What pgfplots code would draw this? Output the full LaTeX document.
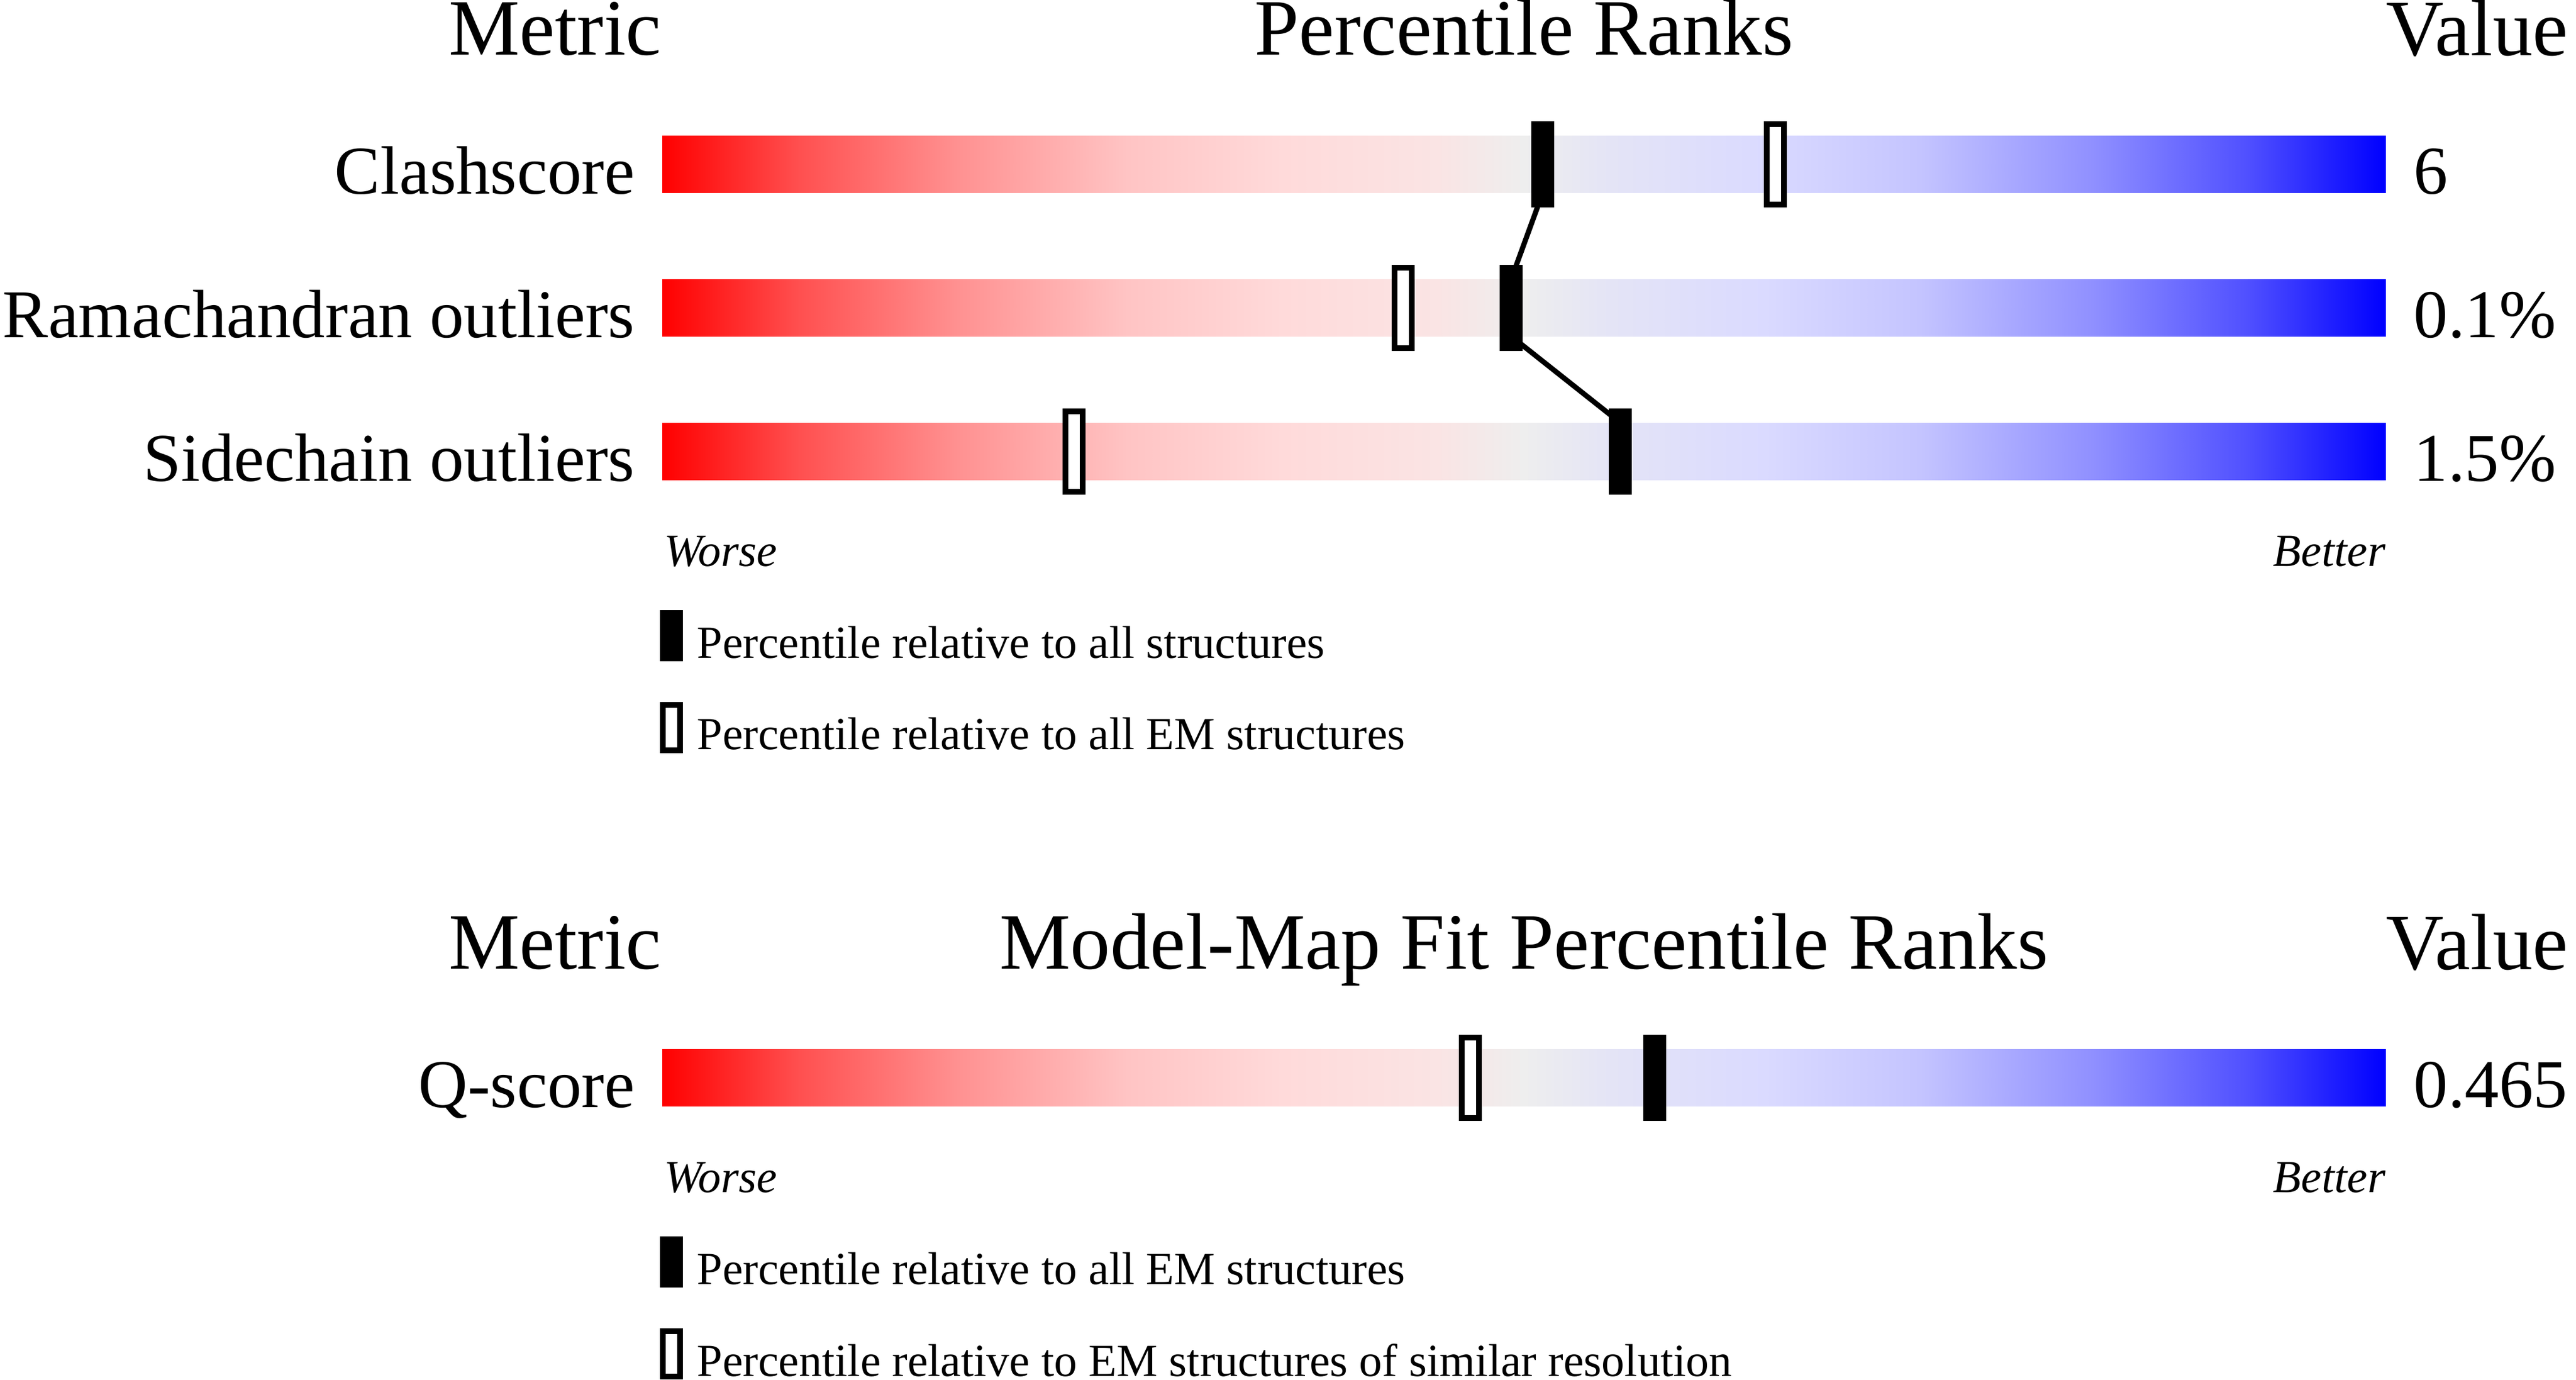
\documentclass[border=0pt]{standalone}
\usepackage{fontspec}
\setmainfont{Liberation Serif}
\usepackage{pgfplots}
\pgfplotsset{compat=1.18}
\usepgfplotslibrary{patchplots}

\pgfdeclareplotmark{pctbar}{\pgfpathrectangle{\pgfqpoint{-1.5pt}{-7pt}}{\pgfqpoint{3pt}{14pt}}\pgfusepathqfillstroke}
\pgfdeclareplotmark{legbar}{\pgfpathrectangle{\pgfqpoint{-1.5pt}{-3.95pt}}{\pgfqpoint{3pt}{7.9pt}}\pgfusepathqfillstroke}

\pgfplotsset{colormap={wwpdb}{rgb255(0pt)=(255,0,0) rgb255(8pt)=(255,80,80) rgb255(17pt)=(255,144,144) rgb255(27pt)=(255,196,196) rgb255(36pt)=(255,218,218) rgb255(45pt)=(250,228,228) rgb255(50pt)=(238,238,238) rgb255(55pt)=(228,228,246) rgb255(64pt)=(218,218,255) rgb255(73pt)=(196,196,255) rgb255(83pt)=(144,144,255) rgb255(92pt)=(80,80,255) rgb255(100pt)=(0,0,255)}}
\pgfplotsset{gbar/.style={patch, patch type=rectangle, mesh input=lattice, mesh/cols=13, shader=interp, point meta=x}}
\tikzset{tx/.style={inner sep=0pt, outer sep=0pt}}

\newcommand\ttl{\fontsize{13.9}{16}\selectfont}
\newcommand\lbl{\fontsize{11.9}{14}\selectfont}
\newcommand\sml{\fontsize{8}{9}\selectfont}

\begin{document}
\begin{tikzpicture}
\useasboundingbox (0,0) rectangle (448.5pt,240.2pt);
\begin{axis}[
  at={(0,0)}, anchor=south west,
  scale only axis, width=448.5pt, height=240.2pt,
  xmin=-38.4333, xmax=111.0667, ymin=0, ymax=2402, y dir=reverse,
  axis lines=none, ticks=none, clip=false,
  colormap name=wwpdb, point meta min=0, point meta max=100,
]
% ---------- gradient bars ----------
\addplot[gbar] coordinates {
(0,235.8) (8,235.8) (17,235.8) (27,235.8) (36,235.8) (45,235.8) (50,235.8) (55,235.8) (64,235.8) (73,235.8) (83,235.8) (92,235.8) (100,235.8)

(0,335.4) (8,335.4) (17,335.4) (27,335.4) (36,335.4) (45,335.4) (50,335.4) (55,335.4) (64,335.4) (73,335.4) (83,335.4) (92,335.4) (100,335.4)
};
\addplot[gbar] coordinates {
(0,485.8) (8,485.8) (17,485.8) (27,485.8) (36,485.8) (45,485.8) (50,485.8) (55,485.8) (64,485.8) (73,485.8) (83,485.8) (92,485.8) (100,485.8)

(0,585.4) (8,585.4) (17,585.4) (27,585.4) (36,585.4) (45,585.4) (50,585.4) (55,585.4) (64,585.4) (73,585.4) (83,585.4) (92,585.4) (100,585.4)
};
\addplot[gbar] coordinates {
(0,735.8) (8,735.8) (17,735.8) (27,735.8) (36,735.8) (45,735.8) (50,735.8) (55,735.8) (64,735.8) (73,735.8) (83,735.8) (92,735.8) (100,735.8)

(0,835.4) (8,835.4) (17,835.4) (27,835.4) (36,835.4) (45,835.4) (50,835.4) (55,835.4) (64,835.4) (73,835.4) (83,835.4) (92,835.4) (100,835.4)
};
\addplot[gbar] coordinates {
(0,1825.7) (8,1825.7) (17,1825.7) (27,1825.7) (36,1825.7) (45,1825.7) (50,1825.7) (55,1825.7) (64,1825.7) (73,1825.7) (83,1825.7) (92,1825.7) (100,1825.7)

(0,1925.3) (8,1925.3) (17,1925.3) (27,1925.3) (36,1925.3) (45,1925.3) (50,1925.3) (55,1925.3) (64,1925.3) (73,1925.3) (83,1925.3) (92,1925.3) (100,1925.3)
};
% ---------- connecting lines (all structures) ----------
\addplot[black, line width=0.9pt] coordinates {(51.1,335.4) (49.27,485.8)};
\addplot[black, line width=0.9pt] coordinates {(49.27,585.4) (55.6,735.8)};
% ---------- percentile markers ----------
\addplot[only marks, mark=pctbar, mark options={draw=black, fill=white, line width=1pt}] coordinates {(64.6,285.6) (43.0,535.6) (23.9,785.6) (46.9,1875.5)};
\addplot[only marks, mark=pctbar, mark options={draw=black, fill=black, line width=1pt}] coordinates {(51.1,285.6) (49.27,535.6) (55.6,785.6) (57.6,1875.5)};
% ---------- legend marks ----------
\addplot[only marks, mark=legbar, mark options={draw=black, fill=black, line width=1pt}] coordinates {(0.517,1106.5) (0.517,2196.4)};
\addplot[only marks, mark=legbar, mark options={draw=black, fill=white, line width=1pt}] coordinates {(0.517,1266.5) (0.517,2356.4)};

% ---------- texts, top panel ----------
\node[tx, anchor=base east] at (axis cs:-0.05,96) {\ttl Metric};
\node[tx, anchor=base] at (axis cs:50,96) {\ttl Percentile Ranks};
\node[tx, anchor=base west] at (axis cs:100.05,97) {\ttl Value};
\node[tx, anchor=base east] at (axis cs:-1.6,337.1) {\lbl Clashscore};
\node[tx, anchor=base east] at (axis cs:-1.6,587.1) {\lbl Ramachandran outliers};
\node[tx, anchor=base east] at (axis cs:-1.6,837.1) {\lbl Sidechain outliers};
\node[tx, anchor=base west] at (axis cs:101.65,337.1) {\lbl 6};
\node[tx, anchor=base west] at (axis cs:101.65,587.1) {\lbl 0.1\%};
\node[tx, anchor=base west] at (axis cs:101.65,837.1) {\lbl 1.5\%};
\node[tx, anchor=base west] at (axis cs:0.1,985.6) {\sml\itshape Worse};
\node[tx, anchor=base east] at (axis cs:100,985.6) {\sml\itshape Better};
\node[tx, anchor=base west] at (axis cs:2.02,1146) {\sml Percentile relative to all structures};
\node[tx, anchor=base west] at (axis cs:2.02,1305) {\sml Percentile relative to all EM structures};

% ---------- texts, bottom panel ----------
\node[tx, anchor=base east] at (axis cs:-0.05,1686) {\ttl Metric};
\node[tx, anchor=base] at (axis cs:50,1686) {\ttl Model-Map Fit Percentile Ranks};
\node[tx, anchor=base west] at (axis cs:100.05,1687) {\ttl Value};
\node[tx, anchor=base east] at (axis cs:-1.6,1927) {\lbl Q-score};
\node[tx, anchor=base west] at (axis cs:101.65,1927) {\lbl 0.465};
\node[tx, anchor=base west] at (axis cs:0.1,2075.5) {\sml\itshape Worse};
\node[tx, anchor=base east] at (axis cs:100,2075.5) {\sml\itshape Better};
\node[tx, anchor=base west] at (axis cs:2.02,2235) {\sml Percentile relative to all EM structures};
\node[tx, anchor=base west] at (axis cs:2.02,2395) {\sml Percentile relative to EM structures of similar resolution};
\end{axis}
\end{tikzpicture}
\end{document}
